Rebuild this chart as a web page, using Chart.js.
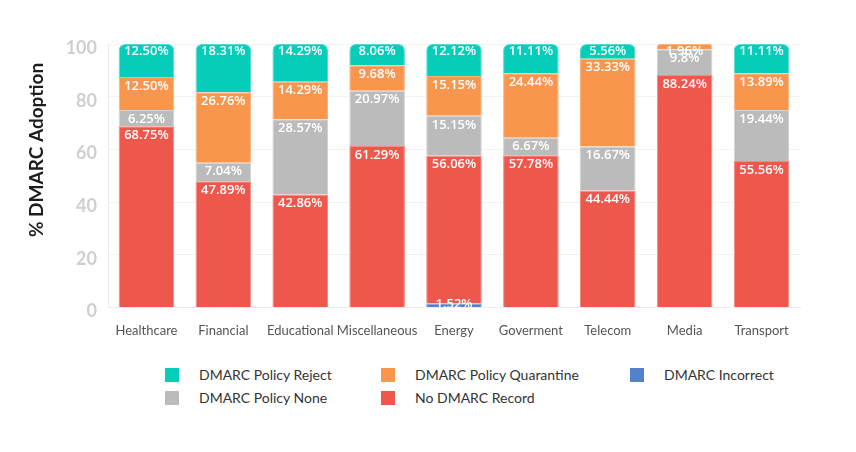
<!DOCTYPE html>
<html>
<head>
<meta charset="utf-8">
<script src="https://cdn.jsdelivr.net/npm/chart.js@4/dist/chart.umd.min.js"></script>
<style>
  html, body { margin: 0; padding: 0; background: #fff; }
  #wrap { position: relative; width: 856px; height: 452px; }
  #chartBox { position: absolute; left: 0; top: 0; width: 856px; height: 345px; }
  #legend {
    position: absolute; left: 165px; top: 367px;
    display: grid; grid-template-columns: 216px 249px 200px; row-gap: 8px;
    font-family: Lato, sans-serif; font-size: 14px; color: #333;
  }
  #legend .item { display: flex; align-items: center; height: 15px; }
  #legend .swatch { width: 14px; height: 14px; margin-right: 20px; }
</style>
</head>
<body>
<div id="wrap">
  <div id="chartBox"><canvas id="chart"></canvas></div>
  <div id="legend"></div>
</div>
<script>
const categories = ["Healthcare", "Financial", "Educational", "Miscellaneous", "Energy", "Goverment", "Telecom", "Media", "Transport"];

// percentages as printed on the bars
const incorrect  = ["0",     "0",     "0",     "0",     "1.52",  "0",     "0",     "0",     "0"];
const noRecord   = ["68.75", "47.89", "42.86", "61.29", "56.06", "57.78", "44.44", "88.24", "55.56"];
const policyNone = ["6.25",  "7.04",  "28.57", "20.97", "15.15", "6.67",  "16.67", "9.8",   "19.44"];
const quarantine = ["12.50", "26.76", "14.29", "9.68",  "15.15", "24.44", "33.33", "1.96",  "13.89"];
const reject     = ["12.50", "18.31", "14.29", "8.06",  "12.12", "11.11", "5.56",  "0",     "11.11"];

const yTicks = [0, 20, 40, 60, 80, 100];

const series = [
  { label: "DMARC Incorrect", raw: incorrect, color: "#5481cb", edge: "#7d9fd8" },
  { label: "No DMARC Record", raw: noRecord, color: "#ee574b", edge: "#f38a80" },
  { label: "DMARC Policy None", raw: policyNone, color: "#bbbbbb", edge: "#d2d2d2" },
  { label: "DMARC Policy Quarantine", raw: quarantine, color: "#f9964e", edge: "#fbb27f" },
  { label: "DMARC Policy Reject", raw: reject, color: "#05cdba", edge: "#4fdccf" },
];
const legendOrder = [
  "DMARC Policy Reject", "DMARC Policy Quarantine", "DMARC Incorrect",
  "DMARC Policy None", "No DMARC Record",
];

// value labels just under the top edge of each segment, clipped to the plot
const barLabels = {
  id: "barLabels",
  afterDatasetsDraw(chart) {
    const { ctx, chartArea } = chart;
    ctx.save();
    ctx.beginPath();
    ctx.rect(chartArea.left, chartArea.top, chartArea.right - chartArea.left, chartArea.bottom - chartArea.top);
    ctx.clip();
    ctx.font = "600 13px 'Open Sans', sans-serif";
    ctx.fillStyle = "#fff";
    ctx.textAlign = "center";
    ctx.textBaseline = "middle";
    chart.data.datasets.forEach((ds, i) => {
      const meta = chart.getDatasetMeta(i);
      meta.data.forEach((bar, j) => {
        const text = series[i].raw[j];
        if (Number(text) <= 0) return;
        const isTop = series.slice(i + 1).every((s) => Number(s.raw[j]) <= 0);
        const y = Math.min(bar.y + (isTop ? 7 : 9), chartArea.bottom - 3);
        ctx.fillText(text + "%", bar.x, y);
      });
    });
    ctx.restore();
  },
};

const yTitle = {
  id: "yTitle",
  afterDraw(chart) {
    const { ctx } = chart;
    ctx.save();
    ctx.translate(37, 150);
    ctx.rotate(-Math.PI / 2);
    ctx.font = "bold 19px Lato, sans-serif";
    ctx.fillStyle = "#1d1d1d";
    ctx.textAlign = "center";
    ctx.textBaseline = "middle";
    ctx.fillText("% DMARC Adoption", 0, 0);
    ctx.restore();
  },
};

const chart = new Chart(document.getElementById("chart"), {
  type: "bar",
  data: {
    labels: categories,
    datasets: series.map((s) => ({
      label: s.label,
      data: s.raw.map(Number),
      backgroundColor: s.color,
      borderColor: s.edge,
      borderWidth: 1,
      borderRadius: 6,
      barPercentage: 0.723,
      categoryPercentage: 1,
    })),
  },
  options: {
    responsive: true,
    maintainAspectRatio: false,
    animation: false,
    layout: { padding: { top: 44, right: 56, bottom: 0, left: 0 } },
    scales: {
      x: {
        stacked: true,
        grid: { display: false, drawTicks: false },
        border: { color: "#ececec" },
        ticks: {
          padding: 16, maxRotation: 0, minRotation: 0, autoSkip: false,
          color: "#555", font: { family: "Lato", size: 13 },
        },
        afterFit(scale) { scale.height = 37.5; },
      },
      y: {
        stacked: true,
        min: 0,
        max: 100,
        afterBuildTicks(scale) { scale.ticks = yTicks.map((v) => ({ value: v })); },
        grid: { color: "#f3f3f3", drawTicks: false },
        border: { color: "#ececec" },
        ticks: {
          padding: 11,
          labelOffset: 4,
          color: "#cfcfcf",
          font: { family: "Lato", size: 18, weight: "bold" },
        },
        afterFit(scale) { scale.width = 108; },
      },
    },
    plugins: {
      legend: { display: false },
      tooltip: { enabled: false },
    },
  },
  plugins: [barLabels, yTitle],
});

const legendEl = document.getElementById("legend");
legendOrder.forEach((name) => {
  const s = series.find((d) => d.label === name);
  const item = document.createElement("div");
  item.className = "item";
  item.innerHTML = `<span class="swatch" style="background:${s.color}"></span><span>${s.label}</span>`;
  legendEl.appendChild(item);
});
</script>
</body>
</html>
